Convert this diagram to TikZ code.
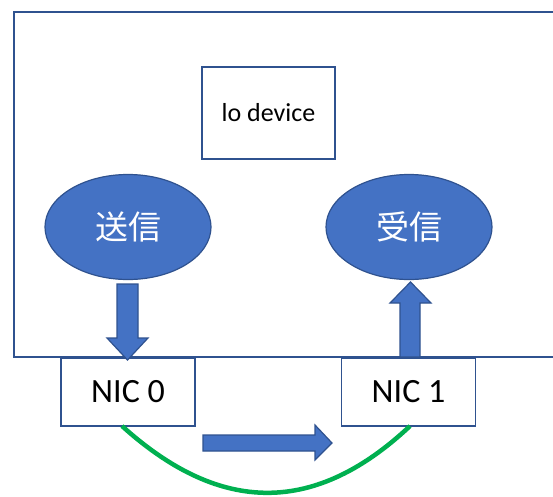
\documentclass[tikz,border=0pt]{standalone}
\usepackage{fontspec}
\setmainfont{Carlito}
\newfontfamily\jpfont{Noto Sans CJK JP}
\usetikzlibrary{shapes.geometric}
\definecolor{fillblue}{HTML}{4472C4}
\definecolor{edgeblue}{HTML}{2F528F}
\definecolor{linkgreen}{HTML}{00B050}
\begin{document}
\begin{tikzpicture}[x=1pt,y=-1pt,
  boxstyle/.style={draw=edgeblue,line width=1.5pt,fill=white,inner sep=0pt,font=\fontsize{26}{30}\selectfont},
  nicbox/.style={boxstyle,minimum width=134pt,minimum height=68pt,font=\fontsize{34}{38}\selectfont},
  blob/.style={ellipse,draw=edgeblue,line width=1.2pt,fill=fillblue,text=white,minimum width=166pt,minimum height=105pt,inner sep=0pt,font=\jpfont\fontsize{33}{38}\selectfont},
  blockarrow/.style={draw=edgeblue,line width=1.2pt,fill=fillblue}]
\useasboundingbox (0,0) rectangle (553,496);
\clip (0,0) rectangle (553,496);
\node[draw=edgeblue,line width=1.5pt,minimum width=560pt,minimum height=345pt,anchor=north west,inner sep=0pt] (host) at (13,11) {};
\node[boxstyle,minimum width=133pt,minimum height=92pt] (lo) at (268.5,113) {lo device};
\node[blob] (send) at (128,227) {送信};
\node[blob] (recv) at (409,227) {受信};
\node[nicbox] (nic0) at (128,392) {NIC 0};
\node[nicbox] (nic1) at (408.5,392) {NIC 1};
% block arrows
\draw[blockarrow] (117,284) -- (138,284) -- (138,338) -- (148,338) -- (127.5,360) -- (107,338) -- (117,338) -- cycle;
\draw[blockarrow] (400,357) -- (420,357) -- (420,303) -- (431,303) -- (410.5,282) -- (390,303) -- (400,303) -- cycle;
\draw[blockarrow] (203,435) -- (315,435) -- (315,425) -- (332,443) -- (315,460) -- (315,451) -- (203,451) -- cycle;
% green link
\coordinate (g0) at (122,426);
\coordinate (g1) at (410,426);
\draw[linkgreen,line width=4.5pt] (g0) .. controls (215,510) and (310,520) .. (g1);
\end{tikzpicture}
\end{document}
